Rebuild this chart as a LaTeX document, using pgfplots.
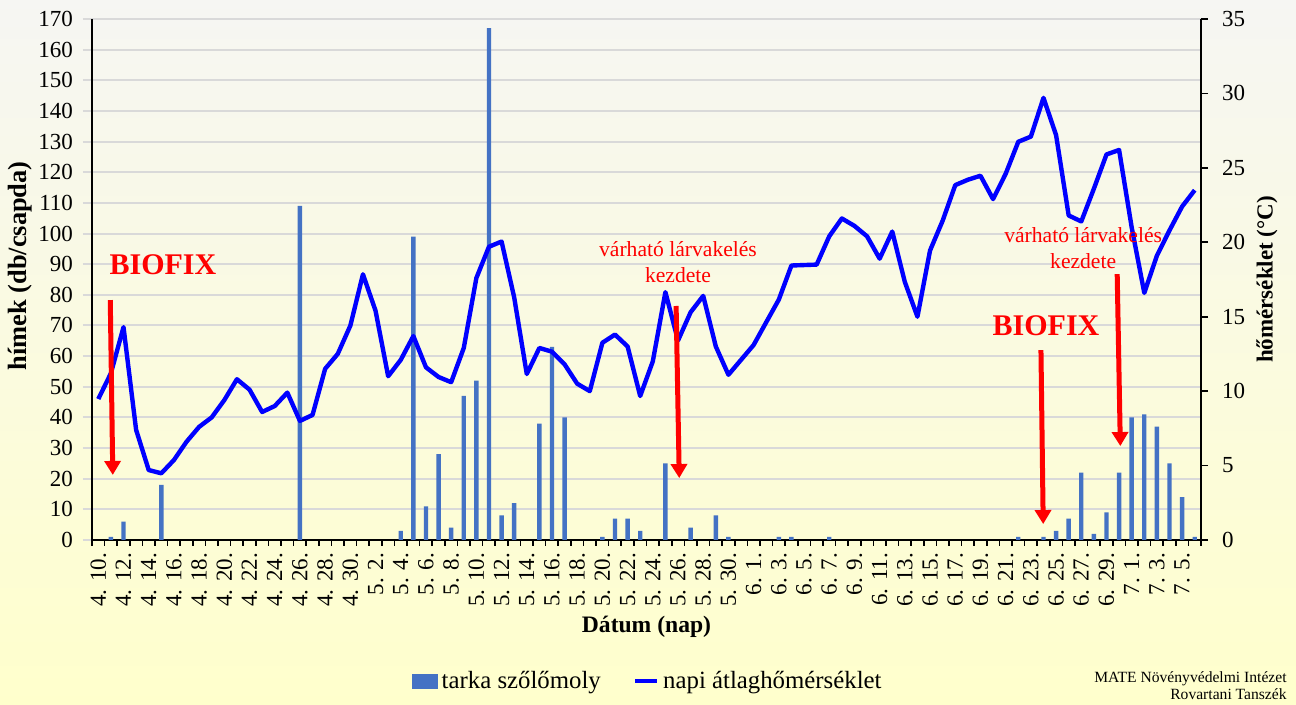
\documentclass[border=0pt]{standalone}
\usepackage{fontspec}
\setmainfont{Liberation Serif}
\usepackage{pgfplots}
\pgfplotsset{compat=1.18}
\usetikzlibrary{arrows.meta}
\definecolor{barblue}{RGB}{68,114,196}
\definecolor{lineblue}{RGB}{0,0,255}
\definecolor{gridgray}{RGB}{217,217,217}
\definecolor{bgtop}{RGB}{246,246,243}
\definecolor{bgbot}{RGB}{255,255,204}
\definecolor{annred}{RGB}{255,0,0}

\begin{document}
\begin{tikzpicture}
\shade[top color=bgtop, bottom color=bgbot] (0,0) rectangle (648pt,352.5pt);
\useasboundingbox (0,0) rectangle (648pt,352.5pt);
\begin{axis}[
  at={(46pt,82.5pt)}, anchor=south west,
  scale only axis, width=554.5pt, height=260.5pt,
  xmin=-0.5, xmax=87.5, ymin=0, ymax=170,
  axis x line*=bottom, axis y line*=left,
  axis line style={black, line width=0.8pt, -},
  ytick={0,10,...,170},
  ymajorgrids, grid style={gridgray, line width=1pt},
  ytick style={gridgray, line width=1pt},
  tick align=outside, major tick length=4.5pt,
  xtick={0,2,...,86},
  xticklabels={{4. 10.},{4. 12.},{4. 14.},{4. 16.},{4. 18.},{4. 20.},{4. 22.},{4. 24.},{4. 26.},{4. 28.},{4. 30.},{5. 2.},{5. 4.},{5. 6.},{5. 8.},{5. 10.},{5. 12.},{5. 14.},{5. 16.},{5. 18.},{5. 20.},{5. 22.},{5. 24.},{5. 26.},{5. 28.},{5. 30.},{6. 1.},{6. 3.},{6. 5.},{6. 7.},{6. 9.},{6. 11.},{6. 13.},{6. 15.},{6. 17.},{6. 19.},{6. 21.},{6. 23.},{6. 25.},{6. 27.},{6. 29.},{7. 1.},{7. 3.},{7. 5.}},
  xtick style={draw=none},
  x tick label style={rotate=90, anchor=east, font=\fontsize{11.5}{13}\selectfont},
  xticklabel shift=-1.5pt,
  y tick label style={font=\fontsize{11.5}{13}\selectfont},
  yticklabel shift=1.5pt,
  /pgf/number format/assume math mode=true,
  extra x ticks={-0.5,0.5,...,87.5},
  extra x tick labels={},
  extra x tick style={xtick style={draw=black, line width=0.8pt}, major tick length=3pt},
  ylabel={\bfseries hímek (db/csapda)},
  ylabel style={at={(axis description cs:-0.065,0.526)}, anchor=center, font=\fontsize{13.2}{15}\selectfont},
  xlabel={\bfseries Dátum (nap)},
  xlabel style={at={(axis description cs:0.5,-0.166)}, anchor=center, font=\fontsize{11.8}{14}\selectfont},
]
\addplot[ybar, bar width=2.2pt, fill=barblue, draw=none] coordinates {
(1,1) (2,6) (5,18) (16,109) (24,3) (25,99) (26,11) (27,28) (28,4) (29,47)
(30,52) (31,167) (32,8) (33,12) (35,38) (36,63) (37,40) (40,1) (41,7) (42,7)
(43,3) (45,25) (47,4) (49,8) (50,1) (54,1) (55,1) (58,1) (73,1) (75,1)
(76,3) (77,7) (78,22) (79,2) (80,9) (81,22) (82,40) (83,41) (84,37) (85,25)
(86,14) (87,1)
};
\end{axis}
\begin{axis}[
  at={(46pt,82.5pt)}, anchor=south west,
  scale only axis, width=554.5pt, height=260.5pt,
  xmin=-0.5, xmax=87.5, ymin=0, ymax=35,
  axis x line=none, axis y line*=right,
  axis line style={black, line width=0.8pt, -},
  ytick={0,5,...,35}, ytick style={black, line width=0.8pt},
  tick align=outside, major tick length=3.5pt,
  y tick label style={font=\fontsize{11.5}{13}\selectfont},
  yticklabel shift=3.5pt,
  /pgf/number format/assume math mode=true,
  ylabel={\bfseries hőmérséklet (°C)},
  ylabel style={at={(axis description cs:1.0595,0.5)}, anchor=center, rotate=0, font=\fontsize{11.5}{13}\selectfont},
  legend style={at={(axis description cs:0.502,-0.271)}, anchor=center, draw=none, fill=none,
    legend columns=2, font=\fontsize{12.4}{14}\selectfont,
    /tikz/every even column/.append style={column sep=14pt}},
  clip=false,
]
\addlegendimage{legend image code/.code={\fill[barblue] (0pt,-3.5pt) rectangle (12.5pt,3.5pt);}}
\addlegendentry{tarka szőlőmoly}
\addplot[lineblue, line width=2.2pt, line join=round,
  legend image code/.code={\draw[lineblue, line width=2.2pt] (0pt,0pt) -- (11pt,0pt);}] coordinates {
(0,9.47) (1,11.2) (2,14.3) (3,7.4) (4,4.7) (5,4.48) (6,5.37) (7,6.6) (8,7.6) (9,8.24)
(10,9.4) (11,10.8) (12,10.1) (13,8.6) (14,9.0) (15,9.9) (16,8.0) (17,8.4) (18,11.5) (19,12.5)
(20,14.4) (21,17.85) (22,15.4) (23,11.0) (24,12.1) (25,13.7) (26,11.6) (27,10.95) (28,10.6) (29,12.9)
(30,17.6) (31,19.7) (32,20.05) (33,16.3) (34,11.15) (35,12.9) (36,12.65) (37,11.8) (38,10.5) (39,10.0)
(40,13.25) (41,13.8) (42,13.0) (43,9.67) (44,12.0) (45,16.65) (46,13.4) (47,15.3) (48,16.4) (49,13.0)
(50,11.1) (51,12.1) (52,13.1) (53,14.63) (54,16.15) (55,18.44) (56,18.47) (57,18.5) (58,20.4) (59,21.6)
(60,21.1) (61,20.4) (62,18.9) (63,20.72) (64,17.33) (65,15.0) (66,19.45) (67,21.45) (68,23.84) (69,24.2)
(70,24.47) (71,22.9) (72,24.6) (73,26.75) (74,27.1) (75,29.7) (76,27.2) (77,21.8) (78,21.4) (79,23.6)
(80,25.9) (81,26.2) (82,21.0) (83,16.6) (84,19.1) (85,20.8) (86,22.4) (87,23.5)
};
\addlegendentry{napi átlaghőmérséklet}
% annotations
\node[annred, font=\bfseries\fontsize{15}{17}\selectfont] at (axis cs:5.13,18.47) {BIOFIX};
\draw[annred, line width=2.5pt, -{Triangle[width=8pt,length=7pt]}] (axis cs:0.95,16.12) -- (axis cs:1.15,4.37);
\node[annred, align=center, font=\fontsize{10.8}{13}\selectfont] at (axis cs:46.0,18.67) {várható lárvakelés\\kezdete};
\draw[annred, line width=2.5pt, -{Triangle[width=8pt,length=7pt]}] (axis cs:45.85,15.72) -- (axis cs:46.1,4.16);
\node[annred, font=\bfseries\fontsize{15}{17}\selectfont] at (axis cs:75.2,14.37) {BIOFIX};
\draw[annred, line width=2.5pt, -{Triangle[width=8pt,length=7pt]}] (axis cs:74.8,12.76) -- (axis cs:74.98,1.07);
\node[annred, align=center, font=\fontsize{10.8}{13}\selectfont] at (axis cs:78.15,19.61) {várható lárvakelés\\kezdete};
\draw[annred, line width=2.5pt, -{Triangle[width=8pt,length=7pt]}] (axis cs:80.85,17.86) -- (axis cs:81.1,6.31);
\end{axis}
\node[anchor=north east, align=right, inner sep=0pt, font=\fontsize{7.8}{8.6}\selectfont] at (643.5pt,16.8pt) {MATE Növényvédelmi Intézet\\Rovartani Tanszék};
\end{tikzpicture}
\end{document}
